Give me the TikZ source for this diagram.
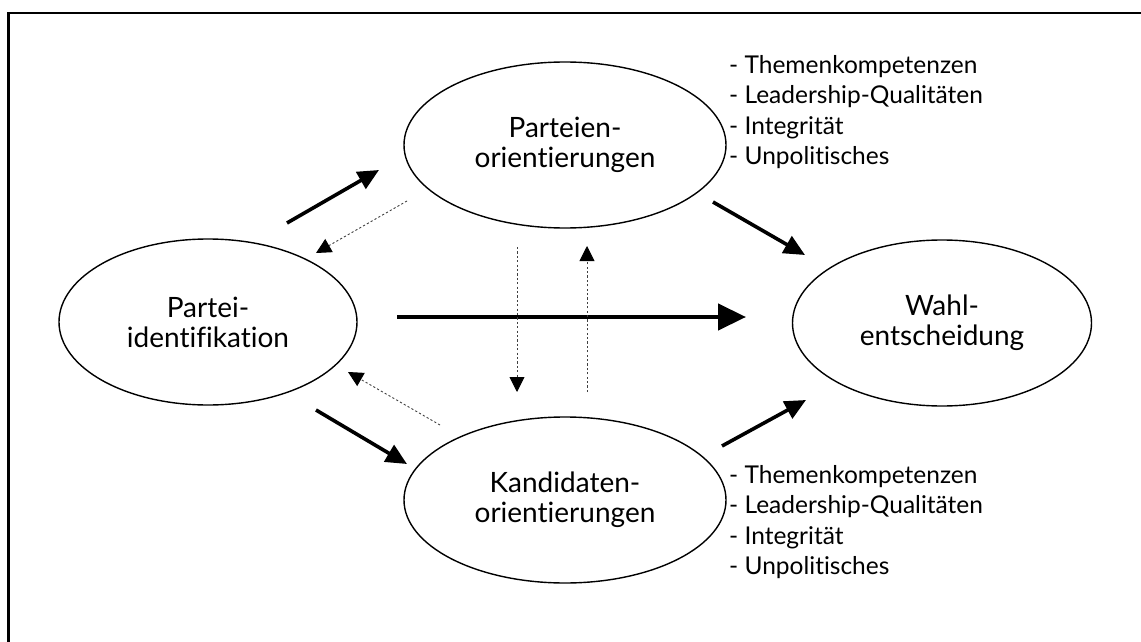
\documentclass[tikz,border=0pt]{standalone}
\usepackage{fontspec}
\setmainfont[Ligatures=NoCommon]{Lato}
\usetikzlibrary{shapes.geometric,arrows.meta}
\begin{document}
\begin{tikzpicture}[x=1pt,y=-1pt,
  ell/.style={draw,line width=1.4pt,ellipse,inner sep=0pt,align=center,
    font=\fontsize{28}{30}\selectfont},
  lst/.style={anchor=north west,align=left,inner sep=0pt,
    font=\fontsize{24.5}{30.5}\selectfont},
  strong/.style={line width=3.6pt,-{Triangle[length=21pt,width=19pt]}},
  strongest/.style={line width=4.4pt,-{Triangle[length=28pt,width=26pt]}},
  weak/.style={line width=0.9pt,draw=black!75,dash pattern=on 2.2pt off 2.2pt,
    -{Triangle[length=15pt,width=15pt,fill=black,color=black]}}]
\useasboundingbox (0,0) rectangle (1141,642);
% frame (only top and left visible)
\draw[line width=2.6pt] (8.5,642) -- (8.5,13) -- (1141,13);
% nodes
\node[ell,minimum width=322pt,minimum height=166pt] (po) at (565,145) {Parteien-\\orientierungen};
\node[ell,minimum width=298pt,minimum height=166pt] (pi) at (208,322) {Partei-\\identifikation};
\node[ell,minimum width=299pt,minimum height=166pt] (we) at (942,323) {Wahl-\\entscheidung};
\node[ell,minimum width=322pt,minimum height=166pt] (ko) at (565,500) {Kandidaten-\\orientierungen};
\node[lst] (lp) at (729,55) {- Themenkompetenzen\\- Leadership-Qualitäten\\- Integrität\\- Unpolitisches};
\node[lst] (lk) at (729,465) {- Themenkompetenzen\\- Leadership-Qualitäten\\- Integrität\\- Unpolitisches};
% connector end points
\coordinate (a1) at (287,223); \coordinate (a2) at (379,170);
\coordinate (b1) at (407,201); \coordinate (b2) at (316,253);
\coordinate (c1) at (397,317); \coordinate (c2) at (746,317);
\coordinate (d1) at (440,425); \coordinate (d2) at (348,372);
\coordinate (e1) at (316,410); \coordinate (e2) at (407,464);
\coordinate (f1) at (517,247); \coordinate (f2) at (517,392);
\coordinate (g1) at (587,392); \coordinate (g2) at (587,246);
\coordinate (h1) at (713,202); \coordinate (h2) at (805,255);
\coordinate (k1) at (722,446); \coordinate (k2) at (806,400);
% connectors
\draw[strong] (a1) -- (a2);
\draw[weak] (b1) -- (b2);
\draw[strongest] (c1) -- (c2);
\draw[weak] (d1) -- (d2);
\draw[strong] (e1) -- (e2);
\draw[weak] (f1) -- (f2);
\draw[weak] (g1) -- (g2);
\draw[strong] (h1) -- (h2);
\draw[strong] (k1) -- (k2);
\end{tikzpicture}
\end{document}
